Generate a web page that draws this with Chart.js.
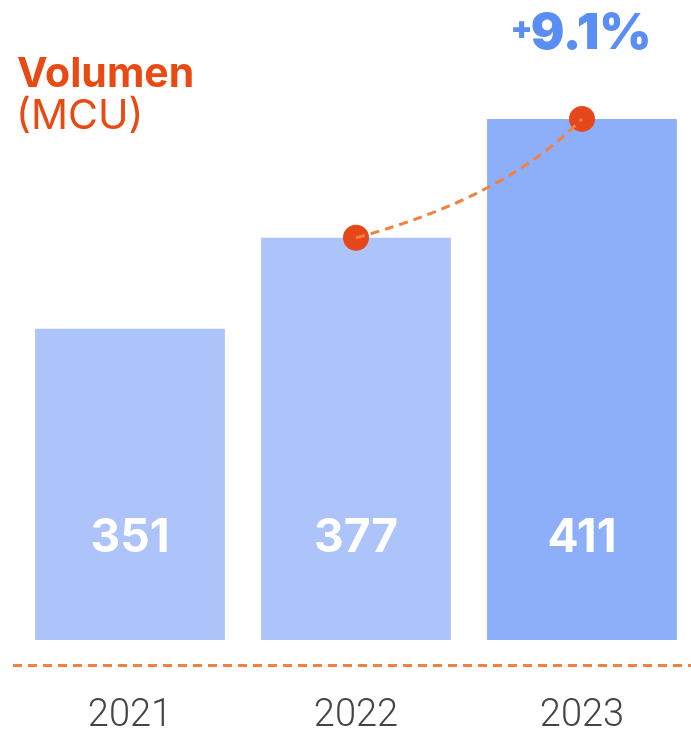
<!DOCTYPE html>
<html>
<head>
<meta charset="utf-8">
<script src="https://cdn.jsdelivr.net/npm/chart.js@4.4.1/dist/chart.umd.min.js"></script>
<style>
  html, body { margin: 0; padding: 0; background: #fff; overflow: hidden; }
  #wrap { position: relative; width: 695px; height: 733px; }
</style>
</head>
<body>
<div id="wrap"><canvas id="chartVolume"></canvas></div>
<script>
// data
const years = ['2021', '2022', '2023'];
const volume = [351, 377, 411];
const trend = [null, 377, 411];
const barColors = ['#adc4fb', '#adc4fb', '#8daef8'];
const growthLabel = '9.1%';

const ORANGE = '#e84a12';
const DOT = '#e5461a';
const DASH = '#f2813f';
const BLUE = '#5b8ef5';

// curved dashed connector + headline texts
const decorPlugin = {
    id: 'decor',
    afterDatasetsDraw(chart) {
        const ctx = chart.ctx;
        const pts = chart.getDatasetMeta(1).data.filter((p, i) => trend[i] !== null);
        const area = chart.chartArea;

        // bar value labels
        const bars = chart.getDatasetMeta(0).data;
        ctx.save();
        ctx.fillStyle = '#ffffff';
        ctx.font = '700 46px Inter, "Open Sans", sans-serif';
        ctx.textAlign = 'center';
        ctx.textBaseline = 'middle';
        bars.forEach((b, i) => ctx.fillText(String(volume[i]), b.x, area.bottom - 102));
        ctx.restore();

        // curve between the two dots
        if (pts.length === 2) {
            const a = pts[0], b = pts[1];
            const cx = a.x + (b.x - a.x) * 0.66;
            const cy = a.y + (b.y - a.y) * 0.34;
            ctx.save();
            ctx.strokeStyle = DASH;
            ctx.lineWidth = 3;
            ctx.setLineDash([9, 6]);
            ctx.beginPath();
            ctx.moveTo(a.x, a.y);
            ctx.quadraticCurveTo(cx, cy, b.x, b.y);
            ctx.stroke();
            ctx.restore();

            // growth text above last point
            ctx.save();
            ctx.fillStyle = BLUE;
            ctx.textBaseline = 'alphabetic';
            ctx.font = '900 50px Inter, sans-serif';
            const w = ctx.measureText(growthLabel).width;
            ctx.font = '900 32px Inter, sans-serif';
            const pw = ctx.measureText('+').width;
            const x0 = b.x - (w + pw) / 2;
            ctx.fillText('+', x0, 39);
            ctx.font = '900 50px Inter, sans-serif';
            ctx.fillText(growthLabel, x0 + pw - 2, 49);
            ctx.restore();
        }

        // dashed baseline
        ctx.save();
        ctx.strokeStyle = DASH;
        ctx.lineWidth = 3;
        ctx.setLineDash([9, 6]);
        ctx.beginPath();
        ctx.moveTo(13, area.bottom + 25.5);
        ctx.lineTo(chart.width, area.bottom + 25.5);
        ctx.stroke();
        ctx.restore();

        // title
        ctx.save();
        ctx.fillStyle = ORANGE;
        ctx.textAlign = 'left';
        ctx.textBaseline = 'alphabetic';
        ctx.font = '700 41px Inter, sans-serif';
        ctx.fillText('Volumen', 17, 87);
        ctx.font = '400 41px Inter, sans-serif';
        ctx.fillText('(MCU)', 16, 129);
        ctx.restore();
    }
};

new Chart(document.getElementById('chartVolume').getContext('2d'), {
    data: {
        labels: years,
        datasets: [
            { type: 'bar', data: volume, backgroundColor: barColors, borderWidth: 0,
              barPercentage: 0.84, categoryPercentage: 1.0, order: 2 },
            { type: 'line', data: trend, showLine: false, pointRadius: 13, pointHoverRadius: 13,
              pointBackgroundColor: DOT, pointBorderWidth: 0, order: 1 }
        ]
    },
    options: {
        responsive: true, maintainAspectRatio: false, animation: false,
        layout: { autoPadding: false, padding: { left: 17, right: 0, top: 0, bottom: 0 } },
        plugins: { legend: { display: false }, tooltip: { enabled: false } },
        scales: {
            x: {
                grid: { display: false }, border: { display: false },
                afterFit: (scale) => { scale.height = 93; },
                ticks: { color: '#444444', padding: 46, font: { family: 'Roboto', weight: 300, size: 38 } }
            },
            y: { display: false, min: 262, max: 445 }
        }
    },
    plugins: [decorPlugin]
});
</script>
</body>
</html>
